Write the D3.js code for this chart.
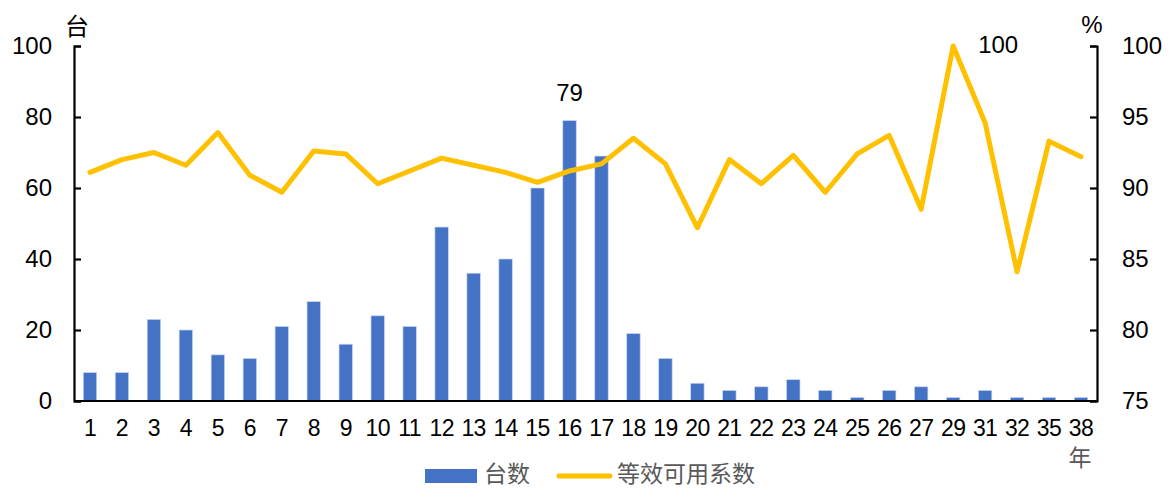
<!DOCTYPE html>
<html><head><meta charset="utf-8">
<script src="https://cdn.jsdelivr.net/npm/d3@7"></script>
<style>body{margin:0;background:#fff}text{font-family:"Liberation Sans",Arial,"Noto Sans CJK SC",sans-serif}</style>
</head><body><svg id="c" width="1171" height="488"></svg>
<script>
const categories = ["1","2","3","4","5","6","7","8","9","10","11","12","13","14","15","16","17","18","19","20","21","22","23","24","25","26","27","29","31","32","35","38"];
const counts = [8,8,23,20,13,12,21,28,16,24,21,49,36,40,60,79,69,19,12,5,3,4,6,3,1,3,4,1,3,1,1,1];
const eaf = [91.1,92.0,92.5,91.6,93.9,90.9,89.7,92.6,92.4,90.3,91.2,92.1,91.6,91.1,90.4,91.2,91.7,93.5,91.7,87.2,92.0,90.3,92.3,89.7,92.4,93.7,88.5,100,94.6,84.1,93.3,92.2];
const leftTicks = [0,20,40,60,80,100];
const rightTicks = [75,80,85,90,95,100];

const svg = d3.select("#c");
const L=74, R=1097, T=46, B=401;
const x = d3.scaleBand().domain(categories).range([L,R]).paddingInner(0.58).paddingOuter(0.29);
const yL = d3.scaleLinear().domain([0,100]).range([B,T]);
const yR = d3.scaleLinear().domain([75,100]).range([B,T]);
const cx = c => x(c)+x.bandwidth()/2;

// bars
svg.append("g").selectAll("rect").data(counts).join("rect")
  .attr("x",(d,i)=>x(categories[i])).attr("width",x.bandwidth())
  .attr("y",d=>yL(d)).attr("height",d=>B-yL(d))
  .attr("fill","#4472C4").attr("stroke","#c9d6ef").attr("stroke-width",0.7);

// line
const line = d3.line().x((d,i)=>cx(categories[i])).y(d=>yR(d));
svg.append("path").datum(eaf).attr("d",line).attr("fill","none")
  .attr("stroke","#FFC000").attr("stroke-width",5).attr("stroke-linejoin","round").attr("stroke-linecap","round");

// axes
const gl = svg.append("g").attr("transform",`translate(${L},0)`)
  .call(d3.axisLeft(yL).tickValues(leftTicks).tickSizeInner(-7).tickSizeOuter(-7).tickPadding(22));
const gr = svg.append("g").attr("transform",`translate(${R},0)`)
  .call(d3.axisRight(yR).tickValues(rightTicks).tickSizeInner(-7).tickSizeOuter(-7).tickPadding(25));
const gx = svg.append("g").attr("transform",`translate(0,${B})`)
  .call(d3.axisBottom(x).tickSize(0).tickPadding(19));
gx.select(".domain").attr("d",`M${L},0H${R}`);
[gl,gr,gx].forEach(g=>{
  g.selectAll(".domain").attr("stroke","#000").attr("stroke-width",2.2);
  g.selectAll(".tick line").attr("stroke","#000").attr("stroke-width",2.2);
  g.selectAll("text").attr("font-size","24px").attr("fill","#000").attr("font-family","'Liberation Sans',Arial,sans-serif");
});
gx.selectAll(".tick text").attr("font-size","23px").attr("letter-spacing","-0.6px");

// unit labels
svg.append("text").attr("x",77).attr("y",35).attr("text-anchor","middle").attr("font-size","24px")
  .attr("font-family","'Noto Sans CJK SC',sans-serif").text("台");
svg.append("text").attr("x",1092).attr("y",33).attr("text-anchor","middle").attr("font-size","24px").text("%");
svg.append("text").attr("x",cx("38")-1).attr("y",466).attr("text-anchor","middle").attr("font-size","23px")
  .attr("font-family","'Noto Sans CJK SC',sans-serif").attr("fill","#595959").text("年");

// data labels
svg.append("text").attr("x",cx("16")).attr("y",yL(79)-20).attr("text-anchor","middle")
  .attr("font-size","24px").text(counts[15]);
svg.append("text").attr("x",cx("29")+25).attr("y",yR(100)+7)
  .attr("font-size","24px").text(eaf[27]);

// legend
const lg = svg.append("g");
lg.append("rect").attr("x",425).attr("y",469).attr("width",52).attr("height",14).attr("fill","#4472C4");
lg.append("text").attr("x",484).attr("y",482).attr("font-size","23px").attr("fill","#595959")
  .attr("font-family","'Noto Sans CJK SC',sans-serif").text("台数");
lg.append("line").attr("x1",559).attr("x2",610).attr("y1",476).attr("y2",476)
  .attr("stroke","#FFC000").attr("stroke-width",5).attr("stroke-linecap","round");
lg.append("text").attr("x",617).attr("y",482).attr("font-size","23px").attr("fill","#595959")
  .attr("font-family","'Noto Sans CJK SC',sans-serif").text("等效可用系数");
</script></body></html>
